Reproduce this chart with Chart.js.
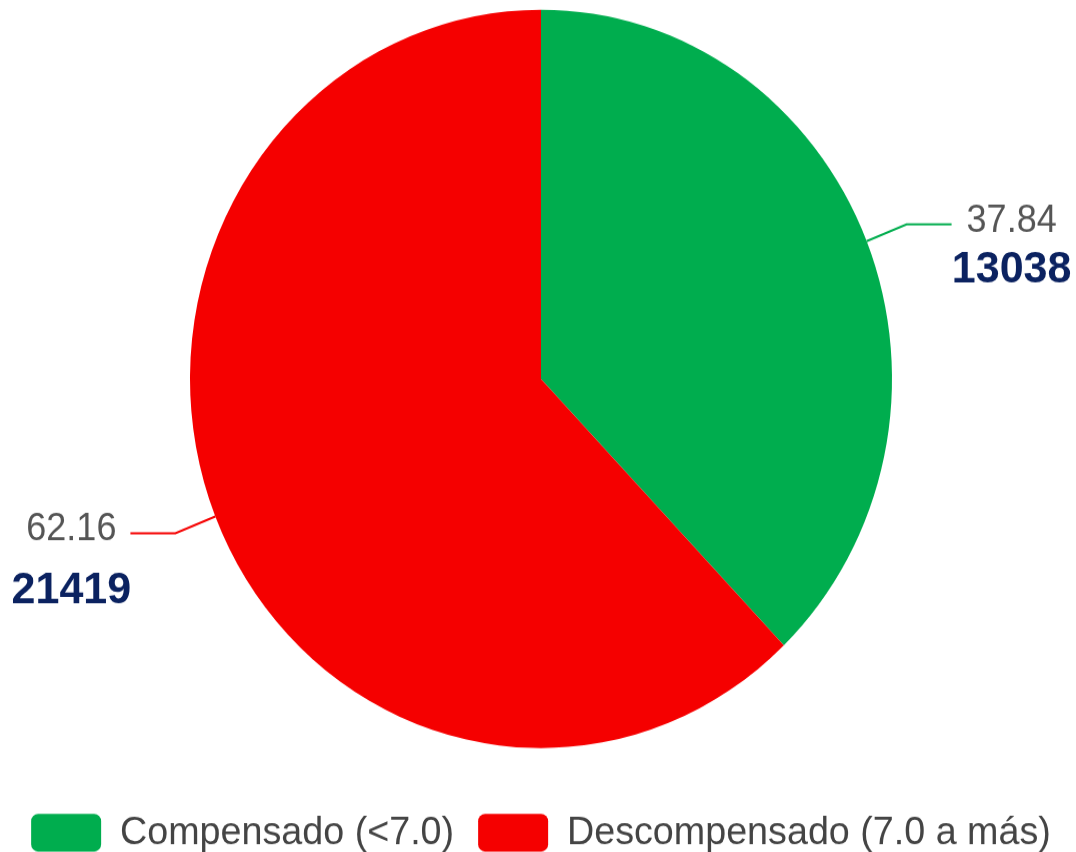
<!DOCTYPE html>
<html>
<head>
<meta charset="utf-8">
<script src="https://cdn.jsdelivr.net/npm/chart.js@4/dist/chart.umd.min.js"></script>
<style>
  html,body{margin:0;padding:0;background:#fff;overflow:hidden;height:852px;}
  #wrap{width:1076px;height:849px;transform:translateY(-29.98px) scale(1,1.05185);transform-origin:0 0;}
</style>
</head>
<body>
<div id="wrap"><canvas id="chart" width="1076" height="849"></canvas></div>
<script>
// ----- Data -----
const LABELS = ['Compensado (<7.0)', 'Descompensado (7.0 a más)'];
const PERCENTS = [37.84, 62.16];
const COUNTS = [13038, 21419];
const COLORS = ['#00AD4E', '#F50000'];

const FONT = "'Liberation Sans', Arial, sans-serif";

// ----- Outside labels with leader lines -----
const sideLabels = {
  id: 'sideLabels',
  afterDatasetsDraw(chart){
    const ctx = chart.ctx;
    const arcs = chart.getDatasetMeta(0).data;
    arcs.forEach((arc, i) => {
      const a = (arc.startAngle + arc.endAngle) / 2;
      const r = arc.outerRadius;
      const cos = Math.cos(a), sin = Math.sin(a);
      const x0 = arc.x + cos*r, y0 = arc.y + sin*r;
      const x1 = arc.x + cos*(r+43), y1 = arc.y + sin*(r+43);
      const right = cos >= 0;
      const x2 = x1 + (right ? 45 : -45);

      ctx.save();
      ctx.strokeStyle = COLORS[i]; ctx.lineWidth = 2;
      ctx.beginPath(); ctx.moveTo(x0,y0); ctx.lineTo(x1,y1); ctx.lineTo(x2,y1); ctx.stroke();

      const pct = PERCENTS[i].toFixed(2);
      ctx.font = '36px ' + FONT;
      const w1 = ctx.measureText(pct).width;
      const cx = right ? x2 + 15 + w1/2 : x2 - 14 - w1/2;
      ctx.textAlign = 'center'; ctx.textBaseline = 'middle';
      ctx.fillStyle = '#555';
      ctx.fillText(pct, cx, y1 - 3);

      ctx.font = 'bold 43px ' + FONT;
      ctx.fillStyle = '#0b2260';
      ctx.fillText(String(COUNTS[i]), cx, y1 + (right ? 43 : 55));
      ctx.restore();
    });
  }
};

new Chart(document.getElementById('chart').getContext('2d'), {
  type: 'pie',
  data: {
    labels: LABELS,
    datasets: [{ data: COUNTS, backgroundColor: COLORS, borderWidth: 0, radius: 351 }]
  },
  options: {
    responsive: false,
    devicePixelRatio: 1,
    animation: false,
    layout: { padding: { top: 0, bottom: 0, left: 6, right: 0 } },
    plugins: {
      tooltip: { enabled: false },
      legend: {
        position: 'bottom',
        labels: {
          boxWidth: 70, boxHeight: 36, padding: 24,
          useBorderRadius: true, borderRadius: 7,
          color: '#444',
          font: { family: FONT, size: 37.7 }
        }
      }
    }
  },
  plugins: [sideLabels]
});
</script>
</body>
</html>
